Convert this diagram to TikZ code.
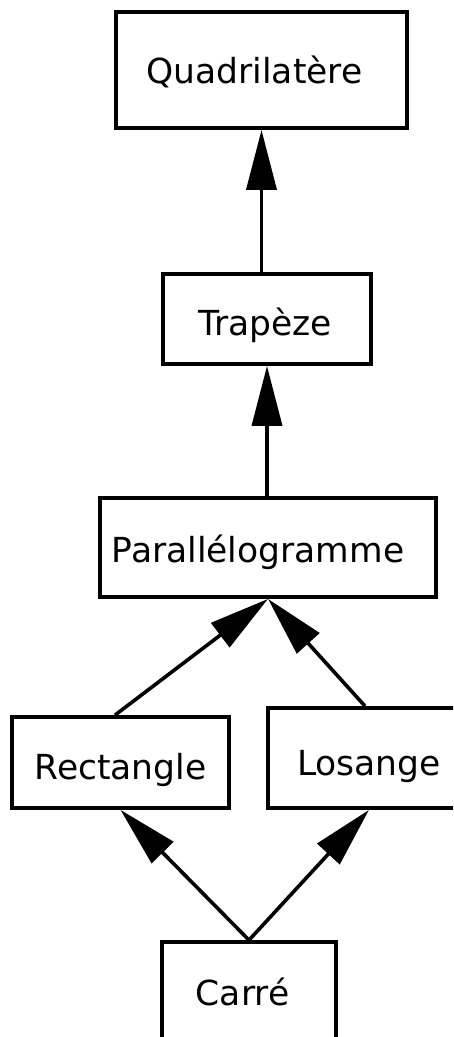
\documentclass[tikz,border=0pt]{standalone}
\usepackage{fontspec}
\setmainfont{DejaVu Sans}
\usetikzlibrary{arrows.meta}
\tikzset{
  box/.style={draw=black, line width=3.8pt, fill=white, inner sep=0pt},
  lbl/.style={anchor=base, inner sep=0pt, font=\fontsize{34.5}{40}\selectfont},
  isa/.style={line width=3.6pt, -{Triangle[length=60pt,width=30pt]}}
}
\begin{document}
\begin{tikzpicture}[x=1pt,y=-1pt]
\useasboundingbox (0,0) rectangle (453,1037);
\clip (0,0) rectangle (453,1037);
\fill[white] (0,0) rectangle (453,1037);
% boxes
\node[box, minimum width=291pt, minimum height=116pt] (Q) at (261.5,70) {};
\node[box, minimum width=208pt, minimum height=90pt] (T) at (267,319) {};
\node[box, minimum width=336pt, minimum height=99pt] (P) at (268,547.5) {};
\node[box, minimum width=217pt, minimum height=91pt] (R) at (120.5,762.5) {};
\node[box, minimum width=202pt, minimum height=100pt] (L) at (369,758) {};
\node[box, minimum width=174pt, minimum height=100pt] (C) at (249,992) {};
% labels
\node[lbl] (Qt) at (254.5,83) {Quadrilatère};
\node[lbl] (Tt) at (265,335) {Trapèze};
\node[lbl] (Pt) at (258,562) {Parallélogramme};
\node[lbl] (Rt) at (120.5,779) {Rectangle};
\node[lbl] (Lt) at (369,775) {Losange};
\node[lbl] (Ct) at (242.5,1005) {Carré};
% connectors
\draw[isa] (Q.south |- T.north) -- (Q.south);
\draw[isa] (T.south |- P.north) -- (T.south);
\draw[isa] ([xshift=-5.5pt]R.north) -- (P.south);
\draw[isa] ([xshift=-4pt]L.north) -- (P.south);
\draw[isa] (C.north) -- (R.south);
\draw[isa] (C.north) -- (L.south);
\end{tikzpicture}
\end{document}
